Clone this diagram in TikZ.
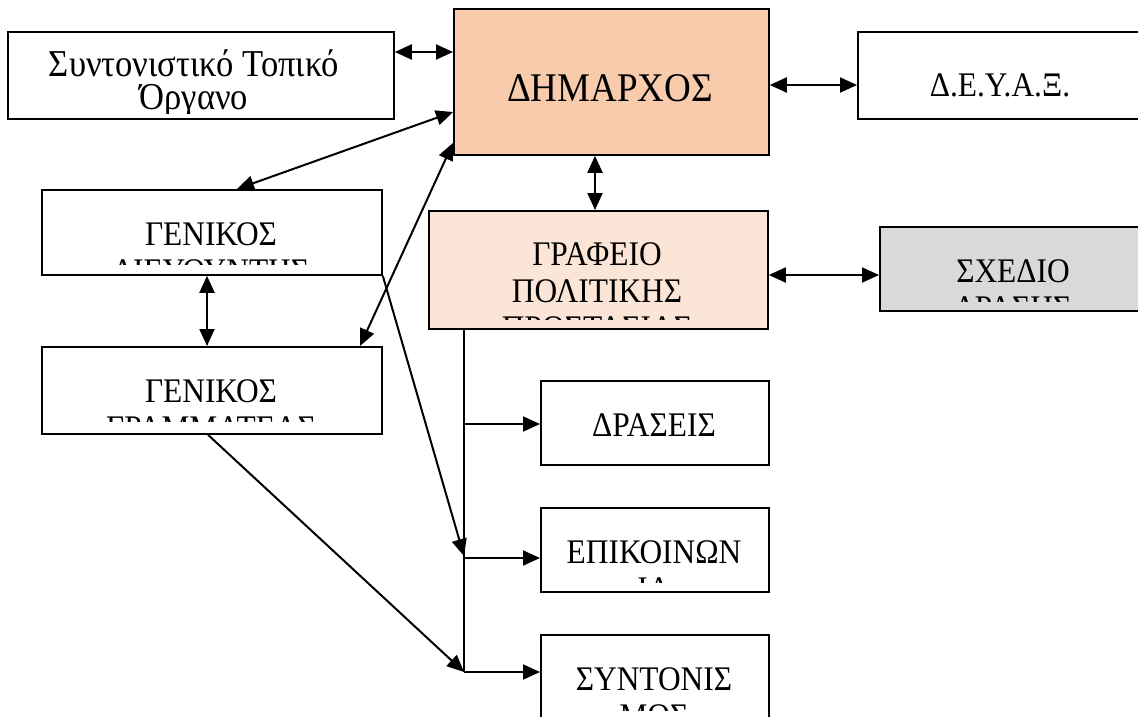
\documentclass[tikz,border=0pt]{standalone}
\usepackage{fontspec}
\setmainfont{Liberation Serif}[FakeStretch=0.91]
\usetikzlibrary{arrows.meta,calc}
\definecolor{mayor}{HTML}{F8CBAD}
\definecolor{office}{HTML}{FBE5D6}
\definecolor{plangray}{HTML}{D9D9D9}
\begin{document}
\begin{tikzpicture}[x=1pt,y=-1pt,
  box/.style={draw=black, line width=1.8pt, rectangle, inner sep=0pt, anchor=north west},
  txt/.style={inner sep=0pt, anchor=base, font=\fontsize{34.5}{40}\selectfont},
  conn/.style={line width=2pt, draw=black},
  trunk/.style={line width=1.6pt, draw=black},
  onehead/.style={-{Triangle[length=17pt,width=15pt]}},
  twohead/.style={{Triangle[length=17pt,width=15pt]}-{Triangle[length=17pt,width=15pt]}},
]
\useasboundingbox (0,0) rectangle (1138,717);
\clip (0,0) rectangle (1138,717);
\fill[white] (0,0) rectangle (1138,717);

% boxes
\node[box, minimum width=386pt, minimum height=87pt] (org) at (7,31) {};
\node[box, fill=mayor, minimum width=315pt, minimum height=146pt] (dim) at (453,8) {};
\node[box, minimum width=290pt, minimum height=87pt] (deya) at (857,31) {};
\node[box, minimum width=340pt, minimum height=85pt] (gd) at (41,189) {};
\node[box, minimum width=340pt, minimum height=87pt] (gg) at (41,346) {};
\node[box, fill=office, minimum width=339pt, minimum height=118pt] (graf) at (428,210) {};
\node[box, fill=plangray, minimum width=272pt, minimum height=84pt] (sxed) at (879,226) {};
\node[box, minimum width=228pt, minimum height=84pt] (dras) at (540,380) {};
\node[box, minimum width=228pt, minimum height=84pt] (epik) at (540,507) {};
\node[box, minimum width=228pt, minimum height=85pt] (synt) at (540,634) {};

% texts (clipped like the text boxes of the original)
\begin{scope}
\clip ($(org.north west)+(4,4)$) rectangle ($(org.south east)+(-4,-6)$);
\node[txt, font=\fontsize{38}{33}\selectfont] (org1) at (194,77)
  {\vtop{\halign{\hfil#\hfil\cr Συντονιστικό Τοπικό\cr Όργανο\cr}}};
\end{scope}
\node[txt, font=\fontsize{40.7}{48}\selectfont] (dim1) at (610,102) {ΔΗΜΑΡΧΟΣ};
\node[txt] (deya1) at (1000,96) {Δ.Ε.Υ.Α.Ξ.};
\begin{scope}
\clip ($(gd.north west)+(4,4)$) rectangle ($(gd.south east)+(-4,-11)$);
\node[txt] (gd1) at (211,245) {ΓΕΝΙΚΟΣ};
\node[txt] (gd2) at (211,282) {ΔΙΕΥΘΥΝΤΗΣ};
\end{scope}
\begin{scope}
\clip ($(gg.north west)+(4,4)$) rectangle ($(gg.south east)+(-4,-13)$);
\node[txt] (gg1) at (211,402) {ΓΕΝΙΚΟΣ};
\node[txt] (gg2) at (211,439) {ΓΡΑΜΜΑΤΕΑΣ};
\end{scope}
\begin{scope}
\clip ($(graf.north west)+(4,4)$) rectangle ($(graf.south east)+(-4,-10)$);
\node[txt] (graf1) at (597,265) {ΓΡΑΦΕΙΟ};
\node[txt] (graf2) at (597,302) {ΠΟΛΙΤΙΚΗΣ};
\node[txt] (graf3) at (597,339) {ΠΡΟΣΤΑΣΙΑΣ};
\end{scope}
\begin{scope}
\clip ($(sxed.north west)+(4,4)$) rectangle ($(sxed.south east)+(-4,-10)$);
\node[txt] (sxed1) at (1013,282) {ΣΧΕΔΙΟ};
\node[txt] (sxed2) at (1013,319) {ΔΡΑΣΗΣ};
\end{scope}
\node[txt] (dras1) at (654,436) {ΔΡΑΣΕΙΣ};
\begin{scope}
\clip ($(epik.north west)+(4,4)$) rectangle ($(epik.south east)+(-4,-10)$);
\node[txt] (epik1) at (654,563) {ΕΠΙΚΟΙΝΩΝ};
\node[txt] (epik2) at (654,600) {ΙΑ};
\end{scope}
\begin{scope}
\clip ($(synt.north west)+(4,4)$) rectangle ($(synt.south east)+(-4,-10)$);
\node[txt] (synt1) at (654,690) {ΣΥΝΤΟΝΙΣ};
\node[txt] (synt2) at (654,727) {ΜΟΣ};
\end{scope}

% connectors
\draw[conn,twohead] ($(org.north east)+(0,21)$) -- ($(dim.north west)+(0,44)$);
\draw[conn,twohead] ($(dim.north east)+(0,77)$) -- ($(deya.north west)+(0,54)$);
\draw[conn,twohead] ($(dim.south west)+(142,0)$) -- ($(graf.north west)+(167,0)$);
\draw[conn,twohead] ($(graf.north east)+(0,65)$) -- ($(sxed.north west)+(0,49)$);
\draw[conn,twohead] ($(dim.north west)+(0,104)$) -- ($(gd.north west)+(196,0)$);
\draw[conn,twohead] ($(dim.north west)+(0,135)$) -- ($(gg.north west)+(319,0)$);
\draw[conn,twohead] ($(gd.south west)+(166,0)$) -- ($(gg.north west)+(166,0)$);

\coordinate (jtop) at ($(graf.south west)+(36,0)$);
\coordinate (ka) at ($(dras.north west)+(0,44)$);
\coordinate (kb) at ($(epik.north west)+(0,51)$);
\coordinate (kc) at ($(synt.north west)+(0,38)$);
\coordinate (ja) at (jtop |- ka);
\coordinate (jb) at (jtop |- kb);
\coordinate (jc) at (jtop |- kc);
\draw[trunk] (jtop) -- (jc);
\draw[conn,onehead] (ja) -- (ka);
\draw[conn,onehead] (jb) -- (kb);
\draw[conn,onehead] (jc) -- (kc);
\draw[conn,onehead] (gd.south east) -- ($(jb)+(0,-2)$);
\draw[conn,onehead] ($(gg.south west)+(167,0)$) -- (jc);
\end{tikzpicture}
\end{document}
